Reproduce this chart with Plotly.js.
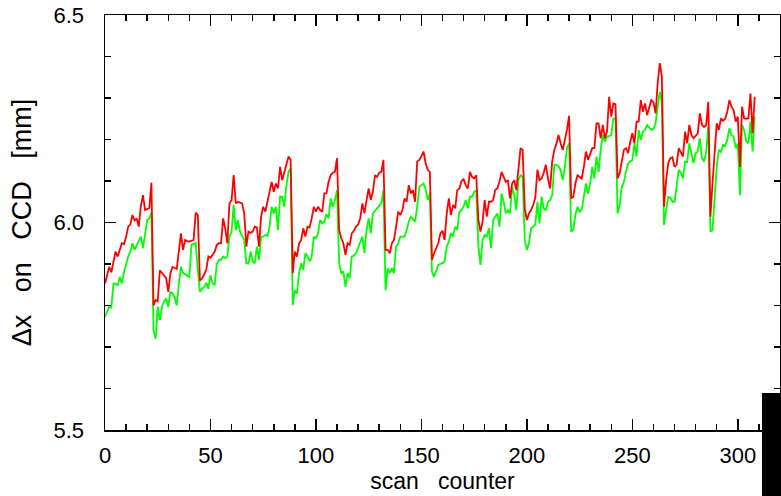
<!DOCTYPE html>
<html>
<head>
<meta charset="utf-8">
<script src="https://cdn.plot.ly/plotly-3.0.1.min.js"></script>
<style>html,body{margin:0;padding:0;background:#fff;}#chart{width:781px;height:496px;}</style>
</head>
<body>
<div id="chart"></div>
<script>
// Δx on CCD [mm] per scan counter
const redValues = [
5.853,5.870,5.893,5.880,5.905,5.930,5.918,5.935,5.950,5.948,
5.965,5.990,5.995,6.018,6.005,6.010,5.990,6.040,6.066,6.030,
6.032,6.035,6.096,5.800,5.813,5.810,5.885,5.878,5.872,5.866,
5.833,5.878,5.893,5.890,5.888,5.930,5.974,5.934,5.958,5.955,
5.954,5.956,5.958,6.024,6.018,5.860,5.865,5.875,5.886,5.918,
5.915,5.922,5.930,5.946,5.950,5.950,6.010,5.985,5.950,6.046,
6.054,6.114,6.046,6.050,6.048,6.046,6.022,5.942,5.978,5.975,
5.978,5.990,5.988,5.942,6.014,6.038,6.026,6.050,6.082,6.098,
6.074,6.094,6.082,6.134,6.102,6.122,6.140,6.159,6.151,5.878,
5.930,5.918,5.950,5.958,5.986,5.966,5.990,5.988,6.010,6.038,
6.026,6.038,6.030,6.026,6.070,6.070,6.098,6.114,6.120,6.122,
6.155,5.982,5.962,5.950,5.922,5.950,5.946,5.974,5.980,5.990,
5.995,6.010,6.046,6.022,6.054,6.082,6.054,6.074,6.114,6.110,
6.120,6.122,6.151,5.934,5.934,5.926,5.950,5.958,5.990,6.026,
6.018,6.030,6.058,6.050,6.090,6.070,6.078,6.050,6.147,6.151,
6.160,6.171,6.143,6.127,6.122,5.910,5.926,5.940,5.950,5.974,
5.980,5.958,6.022,6.058,6.018,6.042,6.034,6.078,6.082,6.100,
6.104,6.090,6.082,6.122,6.110,6.106,6.114,6.006,5.978,6.002,
6.054,6.014,6.050,6.050,6.054,6.078,6.082,6.098,6.122,6.110,
6.098,6.102,6.058,6.094,6.102,6.078,6.127,6.179,6.175,6.034,
6.006,6.022,6.030,6.042,6.060,6.127,6.102,6.106,6.120,6.139,
6.106,6.082,6.147,6.175,6.190,6.211,6.191,6.175,6.199,6.223,
6.257,6.058,6.062,6.094,6.114,6.110,6.106,6.134,6.171,6.151,
6.167,6.179,6.179,6.239,6.239,6.203,6.235,6.203,6.219,6.303,
6.255,6.287,6.285,6.106,6.119,6.151,6.175,6.179,6.167,6.195,
6.215,6.191,6.243,6.243,6.295,6.267,6.287,6.259,6.275,6.295,
6.290,6.263,6.335,6.384,6.351,6.038,6.100,6.143,6.155,6.157,
6.134,6.140,6.179,6.167,6.159,6.219,6.191,6.235,6.211,6.203,
6.210,6.215,6.263,6.235,6.230,6.235,6.291,6.014,6.094,6.167,
6.239,6.223,6.251,6.245,6.250,6.267,6.295,6.279,6.271,6.243,
6.255,6.134,6.279,6.251,6.250,6.251,6.311,6.215,6.303
];
const greenValues = [
5.773,5.785,5.797,5.795,5.853,5.852,5.849,5.869,5.853,5.880,
5.900,5.918,5.930,5.950,5.934,5.945,5.955,5.966,5.938,5.970,
6.006,6.010,6.024,5.740,5.720,5.797,5.765,5.797,5.810,5.817,
5.797,5.833,5.829,5.820,5.800,5.850,5.893,5.878,5.875,5.872,
5.869,5.946,5.948,5.951,5.886,5.833,5.840,5.845,5.855,5.840,
5.873,5.853,5.850,5.900,5.910,5.910,5.918,5.914,5.918,5.966,
5.978,6.042,5.982,6.006,5.978,5.966,5.958,5.902,5.901,5.930,
5.906,5.902,5.942,5.910,5.966,5.966,5.970,5.968,5.990,6.038,
6.022,6.038,5.982,6.062,6.062,6.038,6.090,6.122,6.130,5.801,
5.837,5.829,5.878,5.902,5.886,5.926,5.918,5.906,5.918,5.966,
5.962,5.974,6.006,5.998,6.002,6.020,6.010,6.058,6.038,6.054,
6.078,5.902,5.878,5.882,5.845,5.878,5.866,5.918,5.920,5.926,
5.940,5.950,5.966,5.926,5.982,6.010,5.974,6.022,6.028,6.034,
6.040,6.046,6.078,5.837,5.890,5.878,5.890,5.878,5.942,5.950,
5.966,5.966,5.966,5.982,6.002,6.014,6.008,6.002,6.038,6.086,
6.090,6.094,6.080,6.054,6.070,5.882,5.869,5.885,5.898,5.900,
5.902,5.906,5.942,5.954,5.974,5.966,5.990,5.982,6.026,6.030,
6.038,6.054,6.034,6.062,6.062,6.074,6.078,5.942,5.898,5.958,
5.970,5.966,5.986,5.938,6.006,6.014,6.022,5.990,6.070,6.050,
6.022,6.030,6.022,6.086,6.066,6.030,6.102,6.114,6.110,5.958,
5.934,5.950,5.986,5.990,5.995,6.050,5.998,6.062,6.034,6.030,
6.050,6.054,6.066,6.139,6.139,6.135,6.127,6.102,6.134,6.179,
6.191,5.978,5.982,6.018,6.038,6.026,6.030,6.062,6.094,6.070,
6.094,6.134,6.106,6.159,6.122,6.175,6.211,6.195,6.207,6.208,
6.211,6.251,6.250,6.022,6.042,6.086,6.098,6.122,6.143,6.147,
6.150,6.191,6.159,6.223,6.199,6.219,6.223,6.235,6.228,6.223,
6.225,6.239,6.279,6.315,6.290,5.994,6.030,6.062,6.060,6.050,
6.050,6.094,6.127,6.120,6.106,6.147,6.145,6.191,6.163,6.143,
6.167,6.171,6.203,6.155,6.147,6.170,6.235,5.978,5.982,6.062,
6.134,6.175,6.170,6.187,6.185,6.199,6.227,6.211,6.207,6.179,
6.190,6.066,6.235,6.223,6.195,6.191,6.243,6.171,6.255
];
const scanCounter = redValues.map((_, i) => i);
const xTickLabels = ["0","50","100","150","200","250","300"];
const yTickLabels = ["5.5","6.0","6.5"];

const fontFamily = "Liberation Sans, Arial, sans-serif";
const tickFont = {family: fontFamily, size: 22, color: "#000"};

const traces = [
  {x: scanCounter, y: greenValues, type: "scatter", mode: "lines",
   line: {color: "#00ff00", width: 1.8}, hoverinfo: "skip"},
  {x: scanCounter, y: redValues, type: "scatter", mode: "lines",
   line: {color: "#ff0000", width: 1.8}, hoverinfo: "skip"}
];

const axisCommon = {
  showgrid: false, zeroline: false, showline: true, linecolor: "#000", linewidth: 1.5,
  mirror: "allticks", ticks: "inside", ticklen: 11, tickwidth: 1.5, tickcolor: "#000",
  tickfont: tickFont
};

const layout = {
  width: 781, height: 496,
  margin: {l: 105, r: 1, t: 15, b: 66},
  paper_bgcolor: "#fff", plot_bgcolor: "#fff",
  showlegend: false,
  xaxis: Object.assign({}, axisCommon, {
    range: [0, 320], tickmode: "array",
    tickvals: xTickLabels.map(Number), ticktext: xTickLabels,
    minor: {dtick: 10, ticks: "inside", ticklen: 6, tickwidth: 1.5, tickcolor: "#000"},
    ticklabelstandoff: 5,
    title: {text: "scan   counter", font: {family: fontFamily, size: 23, color: "#000"}, standoff: 4}
  }),
  yaxis: Object.assign({}, axisCommon, {
    range: [5.5, 6.5], tickmode: "array",
    tickvals: yTickLabels.map(Number), ticktext: yTickLabels,
    minor: {dtick: 0.1, ticks: "inside", ticklen: 6, tickwidth: 1.5, tickcolor: "#000"},
    ticklabelstandoff: 15,
    title: {text: "Δx   on   CCD   [mm]", font: {family: fontFamily, size: 27, color: "#000"}, standoff: 14}
  }),
  shapes: [
    {type: "rect", xref: "paper", yref: "paper", x0: 0.9733, x1: 1.002, y0: 0.0892, y1: -0.16,
     fillcolor: "#000", line: {width: 0}, layer: "above"}
  ]
};

Plotly.newPlot("chart", traces, layout, {staticPlot: true, displayModeBar: false});
</script>
</body>
</html>
